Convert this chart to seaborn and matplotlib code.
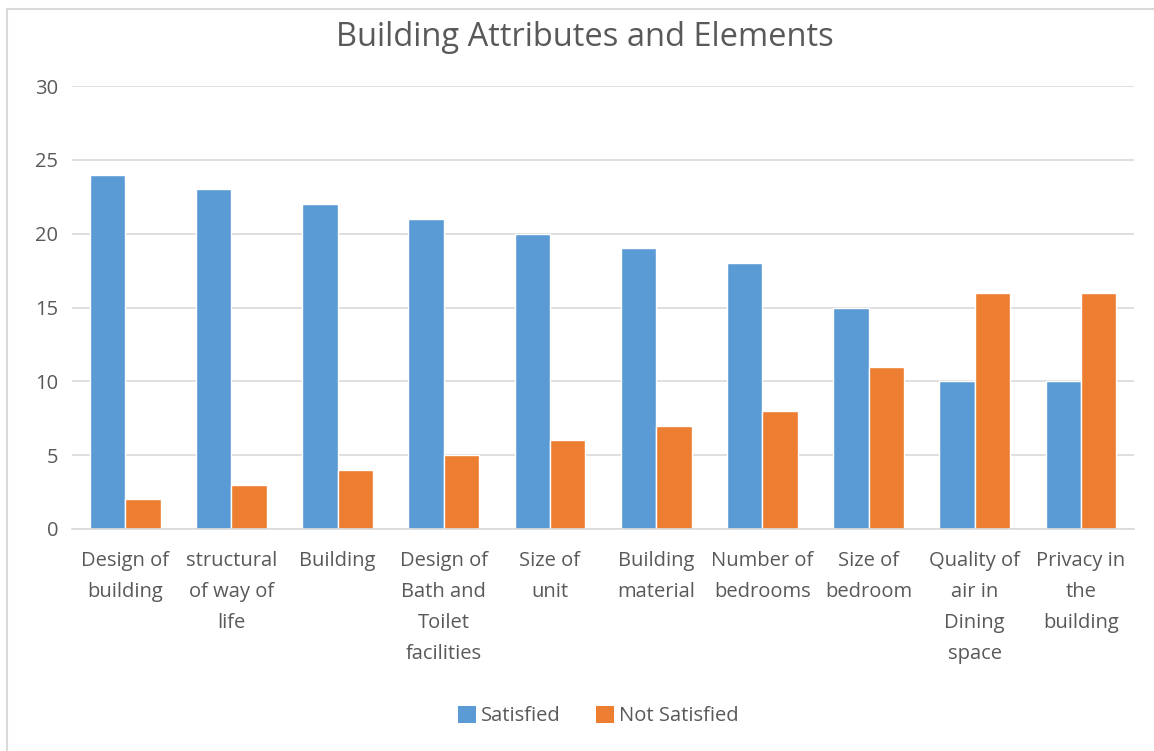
import matplotlib
matplotlib.use("Agg")
import matplotlib.pyplot as plt
import matplotlib.patches as mpatches
import pandas as pd
import seaborn as sns

categories = [
    "Design of\nbuilding",
    "structural\nof way of\nlife",
    "Building",
    "Design of\nBath and\nToilet\nfacilities",
    "Size of\nunit",
    "Building\nmaterial",
    "Number of\nbedrooms",
    "Size of\nbedroom",
    "Quality of\nair in\nDining\nspace",
    "Privacy in\nthe\nbuilding",
]
satisfied = [24, 23, 22, 21, 20, 19, 18, 15, 10, 10]
not_satisfied = [2, 3, 4, 5, 6, 7, 8, 11, 16, 16]
series_names = ["Satisfied", "Not Satisfied"]
colors = ["#5B9BD5", "#ED7D31"]
y_ticks = [0, 5, 10, 15, 20, 25, 30]

df = pd.DataFrame({
    "Attribute": categories * 2,
    "Response": [series_names[0]] * len(categories) + [series_names[1]] * len(categories),
    "Count": satisfied + not_satisfied,
})

sns.set_theme(style="white")
plt.rcParams["font.family"] = ["Open Sans", "DejaVu Sans"]
text_color = "#595959"
grid_color = "#D9D9D9"
label_size = 14.5

fig = plt.figure(figsize=(11.54, 7.51), dpi=100)
ax = fig.add_axes([72 / 1154, 1 - 529 / 751, (1134 - 72) / 1154, (529 - 86) / 751])

sns.barplot(
    data=df, x="Attribute", y="Count", hue="Response",
    order=categories, hue_order=series_names, palette=colors,
    width=2 / 3, gap=0, saturation=1, ax=ax, legend=False,
)

ax.set_xlim(-0.5, len(categories) - 0.5)
ax.set_ylim(0, 30)
ax.set_yticks(y_ticks)
ax.set_axisbelow(True)
ax.yaxis.grid(True, color=grid_color, linewidth=1.2)
ax.xaxis.grid(False)
for s in ["top", "right", "left"]:
    ax.spines[s].set_visible(False)
ax.spines["bottom"].set_color(grid_color)
ax.spines["bottom"].set_linewidth(1.2)
ax.set_xlabel("")
ax.set_ylabel("")
ax.tick_params(axis="x", length=0, pad=16, labelsize=label_size, labelcolor=text_color)
ax.tick_params(axis="y", length=0, pad=10, labelsize=label_size, labelcolor=text_color)
for lbl in ax.get_xticklabels():
    lbl.set_linespacing(1.72)
    lbl.set_verticalalignment("top")

fig.text(585 / 1154, 1 - 37 / 751, "Building Attributes and Elements",
         ha="center", va="center", fontsize=23.5, color=text_color)

handles = [mpatches.Patch(facecolor=c, edgecolor="none", label=n) for c, n in zip(colors, series_names)]
fig.legend(handles=handles, loc="center", bbox_to_anchor=(598 / 1154, 1 - 716 / 751),
           ncol=2, frameon=False, fontsize=label_size, labelcolor=text_color,
           handlelength=0.9, handleheight=0.9, handletextpad=0.25, columnspacing=1.75)

# chart area border
fig.patches.append(mpatches.Rectangle(
    (7 / 1154, -0.05), 1.2, 1 - 9 / 751 + 0.05, transform=fig.transFigure,
    fill=False, edgecolor=grid_color, linewidth=1.5))

fig.savefig("out.png", dpi=100, facecolor="white")
